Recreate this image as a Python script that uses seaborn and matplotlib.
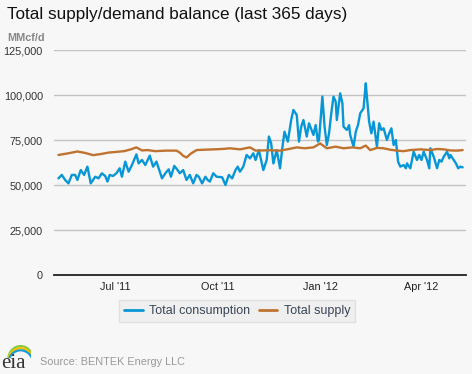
import pandas as pd
import matplotlib
matplotlib.use("Agg")
import matplotlib.pyplot as plt
from matplotlib.patches import Arc
from matplotlib.ticker import FuncFormatter
import seaborn as sns

start = pd.Timestamp("2011-05-10")

# day index since start, value in MMcf/d
consumption_days = [1, 4, 7, 10, 13, 16, 18, 21, 24, 27, 30, 34, 37, 40, 43, 45, 47, 50,
                    53, 56, 58, 61, 64, 67, 71, 73, 76, 79, 83, 86, 89, 91, 94, 97, 100,
                    102, 105, 108, 110, 113, 116, 119, 122, 125, 127, 130, 133, 135, 137,
                    140, 143, 148, 151, 154, 157, 160, 162, 164, 167, 170, 173, 176, 178,
                    181, 183, 185, 188, 190, 192, 194, 197, 200, 202, 204, 207, 210, 212,
                    215, 217, 219, 221, 224, 226, 230, 232, 234, 235, 238, 240, 242, 244,
                    246, 248, 250, 251, 254, 256, 257, 260, 262, 263, 266, 268, 270, 272,
                    275, 277, 278, 280, 282, 284, 287, 289, 291, 293, 296, 298, 300, 302,
                    304, 306, 308, 311, 313, 314, 317, 320, 323, 325, 327, 329, 332, 334,
                    335, 338, 341, 343, 345, 347, 350, 352, 353, 356, 358, 360, 362, 364]
consumption = [53.7, 55.6, 52.8, 50.9, 55.6, 55.6, 52.8, 58.3, 55.6, 60.2, 50.9, 54.6, 53.7,
               56.5, 55.0, 51.9, 55.6, 55.0, 56.5, 59.3, 54.6, 63.0, 57.4, 61.1, 67.0, 62.0,
               63.9, 61.1, 66.3, 60.2, 63.0, 59.3, 53.7, 56.5, 58.7, 54.6, 60.6, 58.3, 56.5,
               58.3, 52.8, 55.6, 50.9, 55.6, 54.6, 50.9, 54.6, 52.8, 51.9, 56.5, 54.6, 54.3,
               50.0, 55.6, 53.7, 58.3, 60.2, 57.4, 60.2, 66.7, 64.8, 67.6, 63.9, 69.4, 63.9,
               58.3, 63.9, 76.9, 73.2, 62.0, 69.4, 59.3, 70.4, 79.6, 74.1, 86.1, 91.7, 88.9,
               74.1, 82.4, 86.1, 76.9, 84.3, 77.8, 83.3, 74.1, 75.0, 99.1, 82.4, 72.2, 78.7,
               89.8, 99.1, 96.3, 86.1, 100.9, 95.4, 82.4, 80.6, 83.3, 77.8, 71.3, 79.6, 83.3,
               89.8, 92.6, 106.5, 99.1, 85.2, 78.7, 85.2, 71.3, 84.3, 80.6, 81.5, 75.0, 78.7,
               81.5, 72.2, 75.0, 63.0, 60.2, 61.1, 59.3, 62.0, 59.3, 68.5, 63.9, 66.7, 63.9,
               68.5, 63.9, 59.3, 70.4, 65.7, 59.3, 63.9, 63.0, 65.7, 68.5, 64.8, 66.7, 63.9,
               62.0, 59.3, 60.2, 59.8]

supply_days = [1, 8, 18, 25, 32, 39, 46, 53, 60, 66, 71, 76, 81, 88, 98, 107, 110, 113,
               116, 120, 125, 132, 140, 148, 155, 164, 173, 178, 190, 200, 208, 215, 222,
               230, 236, 242, 250, 257, 265, 272, 277, 281, 287, 293, 299, 305, 311, 317,
               326, 335, 341, 347, 353, 359, 364]
supply = [66.7, 67.4, 68.6, 67.8, 66.6, 67.2, 68.0, 68.4, 68.8, 69.8, 70.9, 69.2, 69.4,
          68.8, 69.1, 69.1, 68.0, 66.2, 65.3, 67.5, 69.4, 69.6, 69.8, 70.0, 70.4, 69.8,
          70.9, 69.1, 69.3, 69.1, 70.0, 70.9, 70.4, 70.9, 73.1, 70.4, 71.3, 70.4, 70.9,
          70.4, 71.9, 69.4, 70.6, 70.4, 69.6, 69.1, 68.8, 69.4, 69.8, 69.4, 70.0, 69.8,
          69.2, 69.1, 69.4]

y_ticks = [0, 25000, 50000, 75000, 100000, 125000]
x_tick_dates = ["2011-07-01", "2011-10-01", "2012-01-01", "2012-04-01"]
x_tick_labels = ["Jul '11", "Oct '11", "Jan '12", "Apr '12"]

series_names = ["Total consumption", "Total supply"]
colors = ["#0896d4", "#bf7330"]

df = pd.concat([
    pd.DataFrame({"date": start + pd.to_timedelta(consumption_days, unit="D"),
                  "value": [v * 1000 for v in consumption],
                  "series": series_names[0]}),
    pd.DataFrame({"date": start + pd.to_timedelta(supply_days, unit="D"),
                  "value": [v * 1000 for v in supply],
                  "series": series_names[1]}),
])

sns.set_style("white")
plt.rcParams["font.family"] = ["Liberation Sans", "DejaVu Sans"]

bg = "#f7f7f7"
fig = plt.figure(figsize=(4.72, 3.74), dpi=100, facecolor=bg)
ax = fig.add_axes([54 / 472, 99 / 374, 412 / 472, 225 / 374], facecolor=bg)

sns.lineplot(data=df, x="date", y="value", hue="series", hue_order=series_names,
             palette=colors, linewidth=1.7, ax=ax, legend=False)

ax.set_ylim(0, 125000)
ax.set_xlim(pd.Timestamp("2011-05-07"), pd.Timestamp("2012-05-11"))
ax.set_yticks(y_ticks)
ax.yaxis.set_major_formatter(FuncFormatter(lambda v, p: f"{int(v):,}"))
ax.set_xticks(pd.to_datetime(x_tick_dates))
ax.set_xticklabels(x_tick_labels)
ax.set_xlabel("")
ax.set_ylabel("")

for y in y_ticks[1:]:
    ax.axhline(y, color="#c3c3c3", lw=1.0, zorder=0)
for s in ["top", "right", "left"]:
    ax.spines[s].set_visible(False)
ax.spines["bottom"].set_color("#222222")
ax.spines["bottom"].set_linewidth(1.3)

ax.tick_params(axis="y", length=0, pad=8, labelsize=7.8, labelcolor="#333333")
ax.tick_params(axis="x", length=4, width=1, color="#222222", direction="out",
               pad=1, labelsize=7.8, labelcolor="#222222")

# legend
handles = [plt.Line2D([], [], color=c, lw=2) for c in colors]
leg = fig.legend(handles, series_names, loc="center", bbox_to_anchor=(237 / 472, 1 - 311 / 374),
                 ncol=2, frameon=True, fontsize=9, handlelength=1.5, handletextpad=0.5,
                 columnspacing=0.7, borderpad=0.4, fancybox=False)
leg.get_frame().set_facecolor("#eeeeee")
leg.get_frame().set_edgecolor("#dcdcdc")
for t in leg.get_texts():
    t.set_color("#3a4656")

# titles
fig.text(7 / 472, 1 - 15 / 374, "Total supply/demand balance (last 365 days)",
         fontsize=12.3, color="#111111", va="center", ha="left")
fig.text(7 / 472, 1 - 38 / 374, "MMcf/d", fontsize=7.8, color="#888888",
         fontweight="bold", va="center", ha="left")

# footer
fig.text(40 / 472, 1 - 362 / 374, "Source: BENTEK Energy LLC", fontsize=7.8,
         color="#999999", va="center", ha="left")
fig.text(1 / 472, 1 - 363 / 374, "eia", fontsize=15, color="#333333",
         family=["Liberation Serif", "DejaVu Serif"], va="center", ha="left")
lax = fig.add_axes([5 / 472, 1 - 358 / 374, 26 / 472, 14 / 374])
lax.set_xlim(0, 1)
lax.set_ylim(0, 1)
lax.axis("off")
for i, c in enumerate(["#8cc63f", "#f2c300", "#1b9ad6"]):
    lax.add_patch(Arc((0.6, -0.1 - 0.15 * i), 0.95, 1.9, theta1=10, theta2=165,
                      color=c, lw=1.6))

fig.savefig("out.png", dpi=100, facecolor=bg)
